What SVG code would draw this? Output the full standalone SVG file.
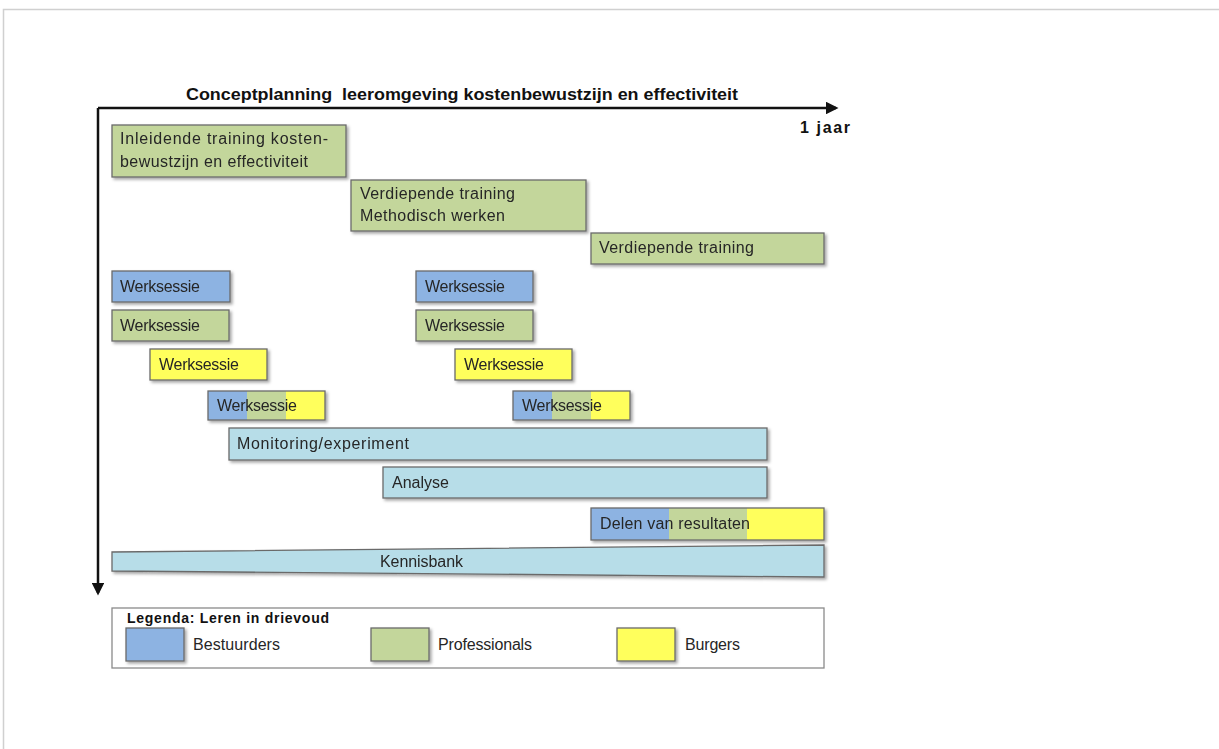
<svg xmlns="http://www.w3.org/2000/svg" width="1219" height="749" viewBox="0 0 1219 749">
<style>
text{font-family:"Liberation Sans",Arial,sans-serif;font-size:16px;fill:#262626}
.b{stroke:#6a6a6a;stroke-width:1.3}
.bl{fill:#8db3e2}.gr{fill:#c3d69b}.ye{fill:#ffff5c}.lb{fill:#b7dde8}
.t{font-weight:bold;font-size:16px;fill:#111}
.nb{stroke:none}
.ax{stroke:#111;stroke-width:2.5;fill:none}
</style>
<defs>
<filter id="sh" x="-5%" y="-20%" width="115%" height="160%">
<feDropShadow dx="2" dy="2" stdDeviation="1.5" flood-color="#000" flood-opacity="0.35"/>
</filter>
<marker id="ar" viewBox="0 0 10 10" refX="8" refY="5" markerWidth="5" markerHeight="5" orient="auto" markerUnits="strokeWidth">
<path d="M0,0 L10,5 L0,10 z" fill="#111"/>
</marker>
</defs>
<rect x="0" y="0" width="1219" height="749" fill="#fff"/>
<path d="M3.5,749 V9.5 H1219" fill="none" stroke="#d0d0d0" stroke-width="1.5"/>

<text class="t" x="186" y="100" textLength="552" lengthAdjust="spacingAndGlyphs">Conceptplanning&#160; leeromgeving kostenbewustzijn en effectiviteit</text>
<text class="t" x="800" y="133" textLength="50">1 jaar</text>

<g id="axes">
<path class="ax" d="M98,108 H836" marker-end="url(#ar)"/>
<path class="ax" d="M98,108 V593" marker-end="url(#ar)"/>
</g>

<g id="inleidende" filter="url(#sh)">
<rect class="b gr" x="112" y="125" width="234" height="52"/>
<text x="120" y="144" textLength="208">Inleidende training kosten-</text>
<text x="120" y="167" textLength="188">bewustzijn en effectiviteit</text>
</g>
<g id="verdiepend-methodisch" filter="url(#sh)">
<rect class="b gr" x="351" y="180" width="235" height="51"/>
<text x="360" y="199" textLength="155">Verdiepende training</text>
<text x="360" y="221" textLength="145">Methodisch werken</text>
</g>
<g id="verdiepend" filter="url(#sh)">
<rect class="b gr" x="591" y="233" width="233" height="31"/>
<text x="599" y="253" textLength="155">Verdiepende training</text>
</g>

<g id="ws1-bestuurders" filter="url(#sh)">
<rect class="b bl" x="112" y="271" width="118" height="31"/>
<text x="120" y="292" textLength="80">Werksessie</text>
</g>
<g id="ws1-professionals" filter="url(#sh)">
<rect class="b gr" x="112" y="310" width="117" height="31"/>
<text x="120" y="331" textLength="80">Werksessie</text>
</g>
<g id="ws1-burgers" filter="url(#sh)">
<rect class="b ye" x="150" y="349" width="117" height="31"/>
<text x="159" y="370" textLength="80">Werksessie</text>
</g>
<g id="ws1-gezamenlijk" filter="url(#sh)">
<rect class="bl nb" x="208" y="391" width="39" height="29"/>
<rect class="gr nb" x="247" y="391" width="39" height="29"/>
<rect class="ye nb" x="286" y="391" width="39" height="29"/>
<rect x="208" y="391" width="117" height="29" fill="none" class="b"/>
<text x="217" y="411" textLength="80">Werksessie</text>
</g>

<g id="ws2-bestuurders" filter="url(#sh)">
<rect class="b bl" x="416" y="271" width="117" height="31"/>
<text x="425" y="292" textLength="80">Werksessie</text>
</g>
<g id="ws2-professionals" filter="url(#sh)">
<rect class="b gr" x="416" y="310" width="117" height="31"/>
<text x="425" y="331" textLength="80">Werksessie</text>
</g>
<g id="ws2-burgers" filter="url(#sh)">
<rect class="b ye" x="455" y="349" width="117" height="31"/>
<text x="464" y="370" textLength="80">Werksessie</text>
</g>
<g id="ws2-gezamenlijk" filter="url(#sh)">
<rect class="bl nb" x="513" y="391" width="39" height="29"/>
<rect class="gr nb" x="552" y="391" width="39" height="29"/>
<rect class="ye nb" x="591" y="391" width="39" height="29"/>
<rect x="513" y="391" width="117" height="29" fill="none" class="b"/>
<text x="522" y="411" textLength="80">Werksessie</text>
</g>

<g id="monitoring" filter="url(#sh)">
<rect class="b lb" x="229" y="428" width="538" height="32"/>
<text x="237" y="449" textLength="172">Monitoring/experiment</text>
</g>
<g id="analyse" filter="url(#sh)">
<rect class="b lb" x="383" y="467" width="384" height="31"/>
<text x="392" y="488" textLength="57">Analyse</text>
</g>
<g id="delen" filter="url(#sh)">
<rect class="bl nb" x="591" y="508" width="78" height="32"/>
<rect class="gr nb" x="669" y="508" width="78" height="32"/>
<rect class="ye nb" x="747" y="508" width="77" height="32"/>
<rect x="591" y="508" width="233" height="32" fill="none" class="b"/>
<text x="600" y="529" textLength="150">Delen van resultaten</text>
</g>
<g id="kennisbank" filter="url(#sh)">
<path class="b lb" d="M112,552 L824,545 L824,577 L112,571 Z"/>
<text x="380" y="567" textLength="83">Kennisbank</text>
</g>

<g id="legenda">
<rect x="112" y="608" width="712" height="60" fill="#fff" stroke="#8a8a8a" stroke-width="1.3"/>
<text x="127" y="623" textLength="202" style="font-weight:bold;font-size:14px;fill:#111">Legenda: Leren in drievoud</text>
<rect class="b bl" x="126" y="628" width="58" height="33" filter="url(#sh)"/>
<text x="193" y="650" textLength="87">Bestuurders</text>
<rect class="b gr" x="371" y="628" width="58" height="33" filter="url(#sh)"/>
<text x="438" y="650" textLength="94">Professionals</text>
<rect class="b ye" x="617" y="628" width="58" height="33" filter="url(#sh)"/>
<text x="685" y="650" textLength="55">Burgers</text>
</g>
</svg>
